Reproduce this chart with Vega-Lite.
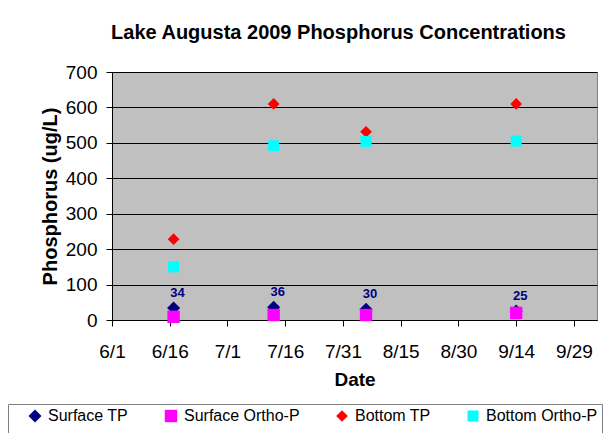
{
  "$schema": "https://vega.github.io/schema/vega-lite/v6.json",
  "autosize": "none",
  "width": 485,
  "height": 248,
  "padding": {"left": 112, "top": 72, "right": 11, "bottom": 113},
  "background": "white",
  "title": {
    "text": "Lake Augusta 2009 Phosphorus Concentrations",
    "font": "Liberation Sans",
    "fontSize": 20,
    "fontWeight": "bold",
    "color": "black",
    "anchor": "middle",
    "dx": -16,
    "offset": 20
  },
  "config": {
    "font": "Liberation Sans",
    "view": {"fill": "#C0C0C0", "stroke": "#808080", "strokeWidth": 1}
  },
  "data": {
    "values": [
      {"date": "2009-06-17", "series": "Surface TP", "value": 34},
      {"date": "2009-07-13", "series": "Surface TP", "value": 36},
      {"date": "2009-08-06", "series": "Surface TP", "value": 30},
      {"date": "2009-09-14", "series": "Surface TP", "value": 25},
      {"date": "2009-06-17", "series": "Surface Ortho-P", "value": 9},
      {"date": "2009-07-13", "series": "Surface Ortho-P", "value": 14},
      {"date": "2009-08-06", "series": "Surface Ortho-P", "value": 14},
      {"date": "2009-09-14", "series": "Surface Ortho-P", "value": 20},
      {"date": "2009-06-17", "series": "Bottom TP", "value": 228},
      {"date": "2009-07-13", "series": "Bottom TP", "value": 610},
      {"date": "2009-08-06", "series": "Bottom TP", "value": 531},
      {"date": "2009-09-14", "series": "Bottom TP", "value": 610},
      {"date": "2009-06-17", "series": "Bottom Ortho-P", "value": 150},
      {"date": "2009-07-13", "series": "Bottom Ortho-P", "value": 492},
      {"date": "2009-08-06", "series": "Bottom Ortho-P", "value": 504},
      {"date": "2009-09-14", "series": "Bottom Ortho-P", "value": 505}
    ]
  },
  "encoding": {
    "x": {
      "field": "date",
      "type": "temporal",
      "scale": {
        "type": "utc",
        "domain": [
          {"year": 2009, "month": 6, "date": 1, "utc": true},
          {"year": 2009, "month": 10, "date": 5, "utc": true}
        ],
        "nice": false
      },
      "axis": {
        "title": "Date",
        "titleFont": "Liberation Sans",
        "titleFontSize": 19,
        "titleFontWeight": "bold",
        "titleColor": "black",
        "titlePadding": 9,
        "values": [
          {"year": 2009, "month": 6, "date": 1, "utc": true},
          {"year": 2009, "month": 6, "date": 16, "utc": true},
          {"year": 2009, "month": 7, "date": 1, "utc": true},
          {"year": 2009, "month": 7, "date": 16, "utc": true},
          {"year": 2009, "month": 7, "date": 31, "utc": true},
          {"year": 2009, "month": 8, "date": 15, "utc": true},
          {"year": 2009, "month": 8, "date": 30, "utc": true},
          {"year": 2009, "month": 9, "date": 14, "utc": true},
          {"year": 2009, "month": 9, "date": 29, "utc": true}
        ],
        "labelExpr": "utcFormat(datum.value, '%-m/%-d')",
        "grid": false,
        "domainColor": "black",
        "tickColor": "black",
        "tickSize": 6,
        "labelFontSize": 19,
        "labelColor": "black",
        "labelPadding": 16,
        "labelFlush": false,
        "labelOverlap": false
      }
    },
    "y": {
      "field": "value",
      "type": "quantitative",
      "scale": {"domain": [0, 700], "nice": false},
      "axis": {
        "title": "Phosphorus (ug/L)",
        "titleFont": "Liberation Sans",
        "titleFontSize": 20,
        "titleFontWeight": "bold",
        "titleColor": "black",
        "titlePadding": 5,
        "values": [0, 100, 200, 300, 400, 500, 600, 700],
        "gridColor": "black",
        "gridOpacity": 1,
        "domainColor": "black",
        "tickColor": "black",
        "tickSize": 6,
        "labelFontSize": 19,
        "labelColor": "black",
        "labelPadding": 9,
        "labelFlush": false,
        "labelOverlap": false
      }
    }
  },
  "layer": [
    {
      "mark": {"type": "point", "filled": true, "opacity": 1},
      "encoding": {
        "color": {
          "field": "series",
          "type": "nominal",
          "scale": {
            "domain": ["Surface TP", "Surface Ortho-P", "Bottom TP", "Bottom Ortho-P"],
            "range": ["#000080", "#FF00FF", "#FF0000", "#00FFFF"]
          },
          "legend": {
            "orient": "none",
            "legendX": -104,
            "legendY": 332,
            "direction": "horizontal",
            "columns": 4,
            "columnPadding": 34,
            "strokeColor": "#808080",
            "padding": 4,
            "title": " ",
            "titleOrient": "left",
            "titleFontSize": 40,
            "titlePadding": 15,
            "labelFont": "Liberation Sans",
            "labelFontSize": 16,
            "labelColor": "black",
            "labelOffset": 5,
            "labelLimit": 0,
            "symbolSize": 100,
            "symbolStrokeWidth": 0,
            "symbolOpacity": 1
          }
        },
        "shape": {
          "field": "series",
          "type": "nominal",
          "scale": {
            "domain": ["Surface TP", "Surface Ortho-P", "Bottom TP", "Bottom Ortho-P"],
            "range": ["diamond", "square", "diamond", "square"]
          }
        },
        "size": {
          "field": "series",
          "type": "nominal",
          "scale": {
            "domain": ["Surface TP", "Surface Ortho-P", "Bottom TP", "Bottom Ortho-P"],
            "range": [170, 121, 200, 121]
          },
          "legend": null
        }
      }
    },
    {
      "transform": [{"filter": "datum.series === 'Surface TP'"}],
      "mark": {
        "type": "text",
        "dy": -15,
        "dx": 4,
        "font": "Liberation Sans",
        "fontSize": 13,
        "fontWeight": "bold",
        "color": "#000080"
      },
      "encoding": {"text": {"field": "value", "type": "quantitative"}}
    }
  ]
}
